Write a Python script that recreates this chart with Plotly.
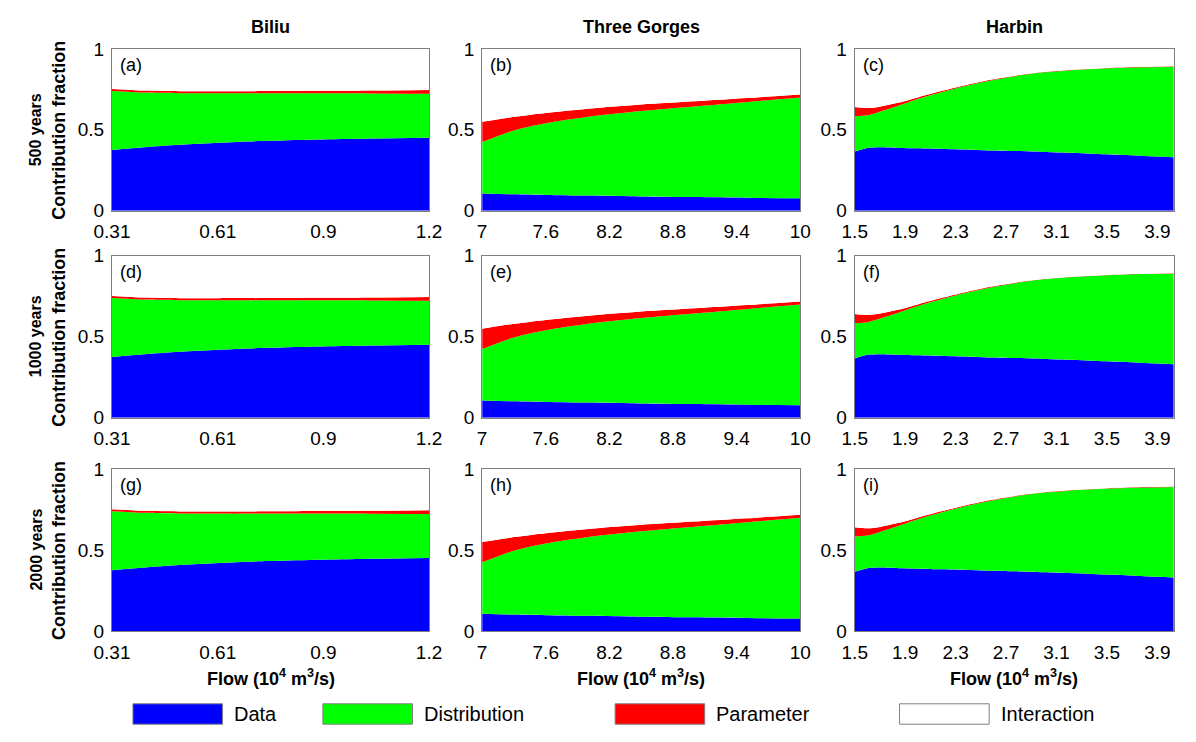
import plotly.graph_objects as go
import numpy as np

# ---------------- data ----------------
sites = ["Biliu", "Three Gorges", "Harbin"]
periods = ["500 years", "1000 years", "2000 years"]
panel_tags = ["(a)", "(b)", "(c)", "(d)", "(e)", "(f)", "(g)", "(h)", "(i)"]
components = ["Data", "Distribution", "Parameter", "Interaction"]
component_colors = ["#0000FF", "#00FF00", "#FF0000", "#FFFFFF"]

biliu_flow = [0.31, 0.40, 0.50, 0.61, 0.75, 0.90, 1.05, 1.20]
biliu_data = [0.375, 0.392, 0.407, 0.420, 0.432, 0.440, 0.446, 0.450]
biliu_dist = [0.365, 0.338, 0.319, 0.305, 0.293, 0.285, 0.278, 0.272]
biliu_param = [0.012, 0.012, 0.012, 0.013, 0.014, 0.016, 0.019, 0.024]

tg_flow = [7.0, 7.3, 7.6, 8.0, 8.5, 9.0, 9.5, 10.0]
tg_data = [0.106, 0.101, 0.097, 0.093, 0.088, 0.084, 0.080, 0.076]
tg_dist = [0.318, 0.395, 0.443, 0.487, 0.528, 0.560, 0.592, 0.624]
tg_param = [0.126, 0.084, 0.064, 0.050, 0.040, 0.032, 0.024, 0.018]

harbin_flow = [1.5, 1.6, 1.7, 1.85, 2.0, 2.2, 2.4, 2.6, 2.8, 3.0, 3.2, 3.5, 3.8, 4.03]
harbin_data = [0.366, 0.388, 0.392, 0.388, 0.385, 0.381, 0.377, 0.372, 0.368, 0.363, 0.358, 0.348, 0.338, 0.330]
harbin_dist = [0.218, 0.202, 0.220, 0.262, 0.305, 0.354, 0.398, 0.436, 0.467, 0.492, 0.509, 0.532, 0.549, 0.560]
harbin_param = [0.056, 0.044, 0.031, 0.018, 0.010, 0.007, 0.005, 0.004, 0.003, 0.002, 0.002, 0.002, 0.002, 0.002]

biliu_ticks = [0.31, 0.6067, 0.9033, 1.2]
biliu_ticktext = ["0.31", "0.61", "0.9", "1.2"]
tg_ticks = [7, 7.6, 8.2, 8.8, 9.4, 10]
tg_ticktext = ["7", "7.6", "8.2", "8.8", "9.4", "10"]
harbin_ticks = [1.5, 1.9, 2.3, 2.7, 3.1, 3.5, 3.9]
harbin_ticktext = ["1.5", "1.9", "2.3", "2.7", "3.1", "3.5", "3.9"]
y_ticks = [0, 0.5, 1]
y_ticktext = ["0", "0.5", "1"]

site_series = [
    (biliu_flow, biliu_data, biliu_dist, biliu_param, [0.31, 1.2], biliu_ticks, biliu_ticktext),
    (tg_flow, tg_data, tg_dist, tg_param, [7, 10], tg_ticks, tg_ticktext),
    (harbin_flow, harbin_data, harbin_dist, harbin_param, [1.5, 4.03], harbin_ticks, harbin_ticktext),
]

# ---------------- layout geometry ----------------
W, H = 1196, 742
col_px = [(96.5, 422.0), (476.5, 803.0), (859.0, 1186.5)]
row_px = [(40.0, 206.5), (253.0, 419.5), (472.5, 639.0)]

FONT = "Liberation Sans, Arial, sans-serif"

fig = go.Figure()
annotations = []
shapes = []

for r in range(3):
    for c in range(3):
        i = r * 3 + c + 1
        xa = "x" if i == 1 else f"x{i}"
        ya = "y" if i == 1 else f"y{i}"
        flow, d, dist, par, xr, tv, tt = site_series[c]
        inter = (1 - np.array(d) - np.array(dist) - np.array(par)).tolist()
        for name, vals, col in zip(components, [d, dist, par, inter], component_colors):
            fig.add_trace(go.Scatter(
                x=flow, y=vals, mode="lines", stackgroup=f"s{i}",
                line=dict(width=0, shape="spline", smoothing=0.8, color=col),
                fillcolor=col, name=name, showlegend=False, xaxis=xa, yaxis=ya,
                hoverinfo="skip"))
        x0, x1 = col_px[c]
        y0, y1 = row_px[r]
        axis_common = dict(showgrid=False, zeroline=False, showline=True, mirror=True,
                           linecolor="#7f7f7f", linewidth=1, ticks="",
                           tickfont=dict(family=FONT, size=19, color="black"))
        fig.layout[f"xaxis{'' if i == 1 else i}"] = dict(
            domain=[x0 / W, x1 / W], anchor=ya, range=xr, tickvals=tv, ticktext=tt,
            ticklabelstandoff=4, **axis_common)
        fig.layout[f"yaxis{'' if i == 1 else i}"] = dict(
            domain=[1 - y1 / H, 1 - y0 / H], anchor=xa, range=[0, 1], tickvals=y_ticks,
            ticktext=y_ticktext, ticklabelstandoff=3, **axis_common)
        annotations.append(dict(text=panel_tags[i - 1], x=(x0 + 6) / W, y=1 - (y0 + 4) / H,
                                xref="paper", yref="paper", xanchor="left", yanchor="top",
                                showarrow=False, font=dict(family=FONT, size=18, color="black")))

# column titles and x-axis titles
for c in range(3):
    x0, x1 = col_px[c]
    annotations.append(dict(text=f"<b>{sites[c]}</b>", x=(x0 + x1) / 2 / W, y=1 - 18 / H,
                            xref="paper", yref="paper", xanchor="center", yanchor="middle",
                            showarrow=False, font=dict(family=FONT, size=18, color="black")))
    annotations.append(dict(text="<b>Flow (10<sup>4</sup> m<sup>3</sup>/s)</b>",
                            x=(x0 + x1) / 2 / W, y=1 - 687 / H,
                            xref="paper", yref="paper", xanchor="center", yanchor="middle",
                            showarrow=False, font=dict(family=FONT, size=18, color="black")))

# row labels
for r in range(3):
    y0, y1 = row_px[r]
    yc = 1 - (y0 + y1) / 2 / H
    annotations.append(dict(text=f"<b>{periods[r]}</b>", x=18 / W, y=yc, textangle=-90,
                            xref="paper", yref="paper", xanchor="center", yanchor="middle",
                            showarrow=False, font=dict(family=FONT, size=16, color="black")))
    annotations.append(dict(text="<b>Contribution fraction</b>", x=42 / W, y=yc, textangle=-90,
                            xref="paper", yref="paper", xanchor="center", yanchor="middle",
                            showarrow=False, font=dict(family=FONT, size=18, color="black")))

# legend (drawn manually to reproduce the wide swatches)
legend_x = [118, 313, 613, 905]
for name, col, lx in zip(components, component_colors, legend_x):
    shapes.append(dict(type="rect", xref="paper", yref="paper",
                       x0=lx / W, x1=(lx + 92) / W, y0=1 - 735 / H, y1=1 - 714 / H,
                       fillcolor=col, line=dict(color="#808080", width=1)))
    annotations.append(dict(text=name, x=(lx + 102) / W, y=1 - 724.5 / H,
                            xref="paper", yref="paper", xanchor="left", yanchor="middle",
                            showarrow=False, font=dict(family=FONT, size=20, color="black")))

fig.update_layout(width=W, height=H, margin=dict(l=0, r=0, t=0, b=0),
                  paper_bgcolor="white", plot_bgcolor="white",
                  annotations=annotations, shapes=shapes, showlegend=False)

fig.write_html("out.html")
